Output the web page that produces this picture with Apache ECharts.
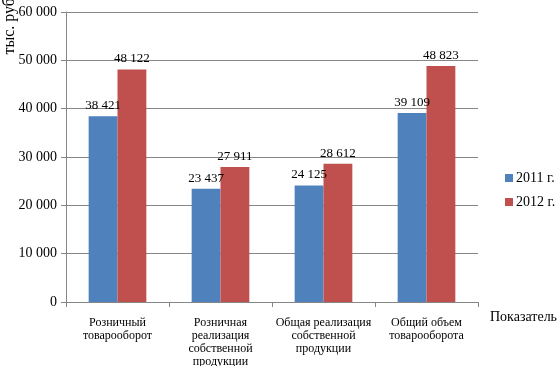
<!DOCTYPE html>
<html><head><meta charset="utf-8">
<script src="https://cdn.jsdelivr.net/npm/echarts@6/dist/echarts.min.js"></script>
<style>html,body{margin:0;padding:0;background:#fff}#c{width:558px;height:366px}</style>
</head><body><div id="c"></div>
<script>
var categories = ["Розничный\nтоварооборот", "Розничная\nреализация\nсобственной\nпродукции", "Общая реализация\nсобственной\nпродукции", "Общий объем\nтоварооборота"];
var series2011 = [38421, 23437, 24125, 39109];
var series2012 = [48122, 27911, 28612, 48823];
var seriesNames = ["2011 г.", "2012 г."];
var yAxisName = "тыс. руб.";
var xAxisName = "Показатель";

function fmt(v){ return String(v).replace(/\B(?=(\d{3})+(?!\d))/g, ' '); }
var font = '"Liberation Serif","Times New Roman",serif';
var chart = echarts.init(document.getElementById('c'), null, {renderer:'canvas'});
chart.setOption({
  animation:false,
  backgroundColor:'#fff',
  textStyle:{fontFamily:font},
  grid:{left:66, right:80, top:12, bottom:64, containLabel:false, outerBoundsMode:'none'},
  legend:{
    orient:'vertical', left:500, top:166, itemWidth:8, itemHeight:8, itemGap:10,
    icon:'rect', padding:[5,0,5,5],
    textStyle:{fontFamily:font, fontSize:14, color:'#000', padding:[0,0,0,-2]},
    data:seriesNames
  },
  xAxis:{
    type:'category', data:categories,
    axisLine:{lineStyle:{color:'#868686'}},
    axisTick:{show:true, length:5, lineStyle:{color:'#868686'}},
    axisLabel:{fontFamily:font, fontSize:12, color:'#000', lineHeight:13, margin:14, interval:0},
    name:xAxisName, nameLocation:'end', nameGap:12,
    nameTextStyle:{fontFamily:font, fontSize:14, color:'#000', align:'left', verticalAlign:'top', padding:[8,0,0,0]}
  },
  yAxis:{
    type:'value', min:0, max:60000, interval:10000,
    axisLine:{show:true, lineStyle:{color:'#868686'}},
    axisTick:{show:true, length:5, lineStyle:{color:'#868686'}},
    splitLine:{lineStyle:{color:'#868686'}},
    axisLabel:{fontFamily:font, fontSize:14, color:'#000', margin:9, formatter:function(v){return fmt(v);}}
  },
  graphic:[{
    type:'text', left:2, top:-6, rotation:Math.PI/2,
    style:{text:yAxisName, font:'16px '+font, fill:'#000'}
  }],
  series:[
    {name:seriesNames[0], type:'bar', data:series2011, barGap:'0%', barCategoryGap:'44%',
     itemStyle:{color:'#4F81BD'},
     label:{show:true, position:'top', distance:4, fontFamily:font, fontSize:13, color:'#000', formatter:function(p){return fmt(p.value);}}},
    {name:seriesNames[1], type:'bar', data:series2012, barGap:'0%', barCategoryGap:'44%',
     itemStyle:{color:'#C0504D'},
     label:{show:true, position:'top', distance:4, fontFamily:font, fontSize:13, color:'#000', formatter:function(p){return fmt(p.value);}}}
  ]
});
</script></body></html>
